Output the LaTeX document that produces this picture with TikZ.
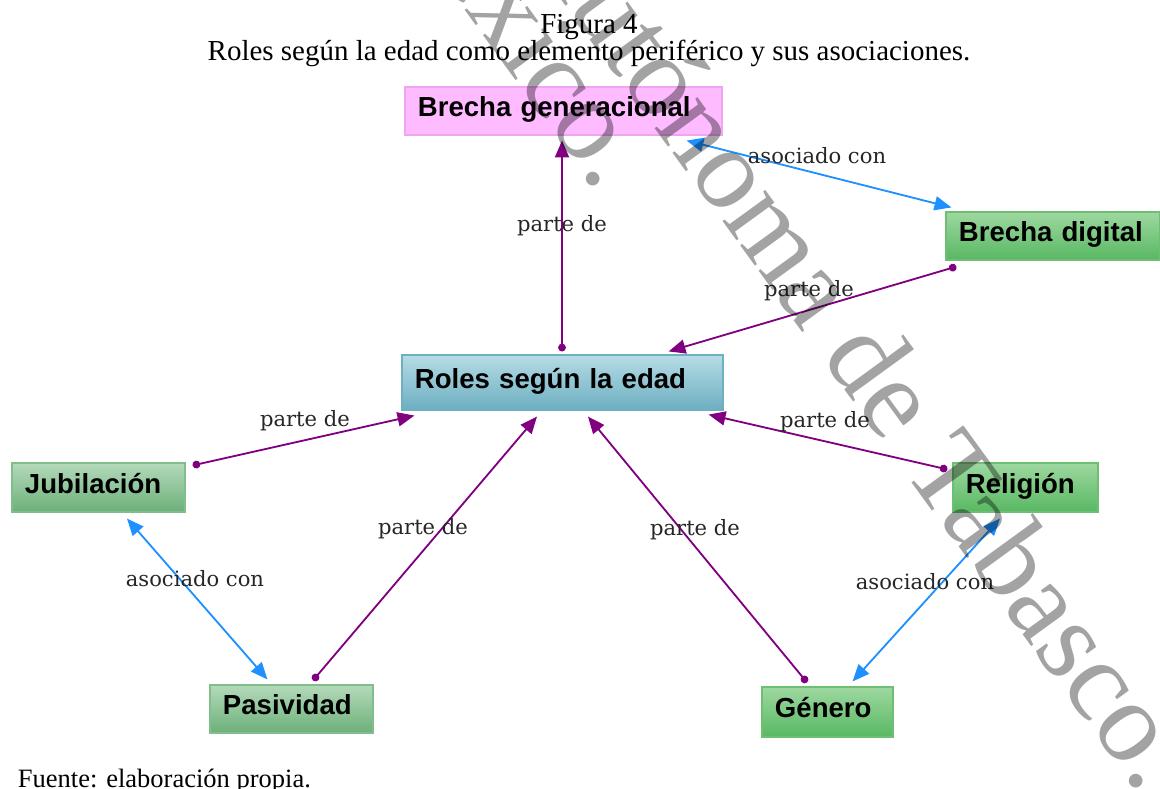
\documentclass[tikz,border=0pt]{standalone}
\usepackage{fontspec}
\setmainfont{Liberation Serif}
\newfontfamily\boxfont{Liberation Sans}
\newfontfamily\labelfont{DejaVu Serif}
\usetikzlibrary{arrows.meta,calc}

\definecolor{partcol}{RGB}{128,0,128}
\definecolor{assoccol}{RGB}{30,144,255}
\definecolor{pinkfill}{RGB}{255,187,255}
\definecolor{pinkline}{RGB}{240,165,240}
\definecolor{greenA}{RGB}{158,216,160}
\definecolor{greenB}{RGB}{88,184,98}
\definecolor{greenLine}{RGB}{110,190,115}
\definecolor{sageA}{RGB}{180,218,186}
\definecolor{sageB}{RGB}{108,176,122}
\definecolor{sageLine}{RGB}{130,190,140}
\definecolor{tealA}{RGB}{182,220,230}
\definecolor{tealB}{RGB}{108,174,192}
\definecolor{tealLine}{RGB}{110,175,192}

\begin{document}
\begin{tikzpicture}[
  x=0.025cm, y=-0.025cm,
  concept/.style={rectangle, draw, line width=0.8pt, inner xsep=0.325cm, inner ysep=0pt,
    align=left, text height=0.95em, text depth=0.1em,
    font=\boxfont\bfseries\fontsize{19.6pt}{22pt}\selectfont},
  pinkbox/.style={concept, draw=pinkline, fill=pinkfill},
  greenbox/.style={concept, draw=greenLine, top color=greenA, bottom color=greenB},
  sagebox/.style={concept, draw=sageLine, top color=sageA, bottom color=sageB},
  tealbox/.style={concept, draw=tealLine, top color=tealA, bottom color=tealB},
  partof/.style={draw=partcol, line width=1.3pt,
    {Circle[length=5.5pt,fill=partcol]}-{Triangle[length=12pt,width=10pt,fill=partcol]}},
  assoc/.style={draw=assoccol, line width=1.3pt,
    {Triangle[length=12pt,width=10pt,fill=assoccol]}-{Triangle[length=12pt,width=10pt,fill=assoccol]}},
  lbl/.style={inner sep=0pt, text=black!85, font=\labelfont\fontsize{15pt}{17pt}\selectfont},
  wm/.style={inner sep=0pt, rotate=-54, text=black, text opacity=0.36,
    font=\fontsize{82pt}{90pt}\selectfont}
]
\useasboundingbox (0,0) rectangle (1160,789);
\clip (0,0) rectangle (1160,789);
\fill[white] (0,0) rectangle (1160,789);

% caption
\node[anchor=base, font=\fontsize{20.6pt}{24pt}\selectfont] (fig) at (589,33) {Figura 4};
\node[anchor=base, font=\fontsize{20.6pt}{24pt}\selectfont] (cap) at (589,60)
  {Roles según la edad como elemento periférico y sus asociaciones.};

% concepts
\node[pinkbox,  text width=7.275cm, minimum height=1.2cm]   (bgen)  at (563.5,111) {Brecha generacional};
\node[greenbox, text width=4.7cm,   minimum height=1.2cm]   (bdig)  at (1053,236)  {Brecha digital};
\node[tealbox,  text width=7.375cm, minimum height=1.375cm] (roles) at (562.5,382.5) {Roles según la edad};
\node[sagebox,  text width=3.675cm, minimum height=1.225cm] (jub)   at (98.5,487.5) {Jubilación};
\node[greenbox, text width=2.975cm, minimum height=1.225cm] (rel)   at (1025.5,487.5) {Religión};
\node[sagebox,  text width=3.425cm, minimum height=1.2cm]   (pas)   at (291.5,709) {Pasividad};
\node[greenbox, text width=2.625cm, minimum height=1.25cm]  (gen)   at (827.5,712) {Género};

% links
\draw[partof] ($(roles.north)+(-0.5,-3)$) -- ($(bgen.south)+(-1.5,5)$);
\draw[assoc]  ($(bgen.south east)+(-36,5)$) -- ($(bdig.north west)+(6,-4)$);
\draw[partof] ($(bdig.south west)+(11,6)$) -- ($(roles.north east)+(-55,-3)$);
\draw[partof] ($(jub.north east)+(7,3)$) -- ($(roles.south west)+(13,5)$);
\draw[partof] ($(pas.north)+(21.5,-4)$) -- ($(roles.south)+(-25.5,6)$);
\draw[partof] ($(gen.north)+(-20.5,-4)$) -- ($(roles.south)+(25.5,6)$);
\draw[partof] ($(rel.north west)+(-5,7)$) -- ($(roles.south east)+(-15,4)$);
\draw[assoc]  ($(jub.south)+(28.5,6)$) -- ($(pas.north west)+(58,-5)$);
\draw[assoc]  ($(rel.south)+(-25.5,6)$) -- ($(gen.north east)+(-41,-5)$);

% link labels
\node[lbl] (l1) at (562,226) {parte de};
\node[lbl] (l2) at (817,156) {asociado con};
\node[lbl] (l3) at (809,291) {parte de};
\node[lbl] (l4) at (305,421) {parte de};
\node[lbl] (l5) at (423,529) {parte de};
\node[lbl] (l6) at (695,530) {parte de};
\node[lbl] (l7) at (825,422) {parte de};
\node[lbl] (l8) at (195,579) {asociado con};
\node[lbl] (l9) at (925,582) {asociado con};

% source line
\node[anchor=base west, font=\fontsize{18.85pt}{22pt}\selectfont] (src) at (13,787)
  {Fuente: elaboración propia.};

% watermark
\node[wm, anchor=base east] (wm1) at (1140,796) {Autónoma de Tabasco.};
\node[wm, anchor=base east] (wm2) at (598,194) {México.};
\end{tikzpicture}
\end{document}
